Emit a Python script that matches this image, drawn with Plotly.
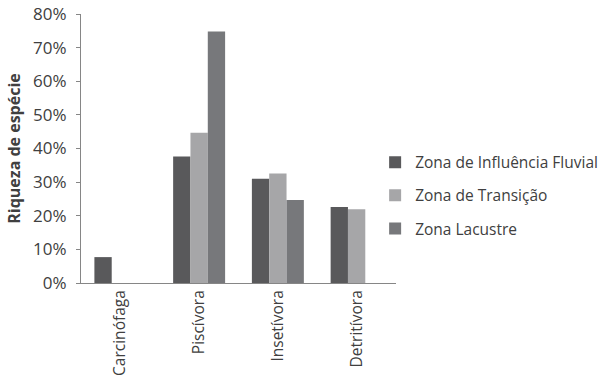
import plotly.graph_objects as go

categories = ["Carcinófaga", "Piscívora", "Insetívora", "Detritívora"]
series_names = ["Zona de Influência Fluvial", "Zona de Transição", "Zona Lacustre"]
fluvial = [0.077, 0.376, 0.310, 0.226]
transicao = [0.0, 0.447, 0.326, 0.219]
lacustre = [0.0, 0.748, 0.247, 0.0]
y_ticks = [0, 0.1, 0.2, 0.3, 0.4, 0.5, 0.6, 0.7, 0.8]

colors = ["#59595b", "#a6a6a8", "#77787b"]
values = [fluvial, transicao, lacustre]

fig = go.Figure()
for i, (name, vals) in enumerate(zip(series_names, values)):
    fig.add_trace(go.Bar(
        x=categories, y=vals, name=name,
        marker=dict(color=colors[i], line=dict(width=0)),
        legendgroup=f"g{i}",
    ))

FONT = "Open Sans"
fig.update_layout(
    width=607, height=385,
    margin=dict(l=81, r=211, t=14, b=102, autoexpand=False),
    paper_bgcolor="white", plot_bgcolor="white",
    barmode="group", bargap=0.34, bargroupgap=0,
    font=dict(family=FONT, size=13, color="#404040"),
    showlegend=True,
    legend=dict(
        xref="container", yref="container",
        x=0.618, y=0.492, xanchor="left", yanchor="middle",
        font=dict(family=FONT, size=15.5, color="#404040"),
        tracegroupgap=10, itemwidth=30, bgcolor="rgba(0,0,0,0)",
    ),
    xaxis=dict(
        showline=True, linecolor="#868686", linewidth=1,
        tickangle=-90, ticks="", showgrid=False, automargin=False,
        tickfont=dict(family=FONT, size=15.5, color="#404040"),
    ),
    yaxis=dict(
        range=[0, 0.8], tickvals=y_ticks, tickformat=".0%",
        showline=True, linecolor="#868686", linewidth=1,
        ticks="outside", ticklen=4, tickcolor="#868686",
        ticklabelstandoff=6, automargin=False,
        showgrid=False, zeroline=False,
        tickfont=dict(family=FONT, size=17, color="#404040"),
        title=dict(text="<b>Riqueza de espécie</b>", font=dict(family=FONT, size=16, color="#404040"), standoff=8),
    ),
)

fig.write_html("out.html")
